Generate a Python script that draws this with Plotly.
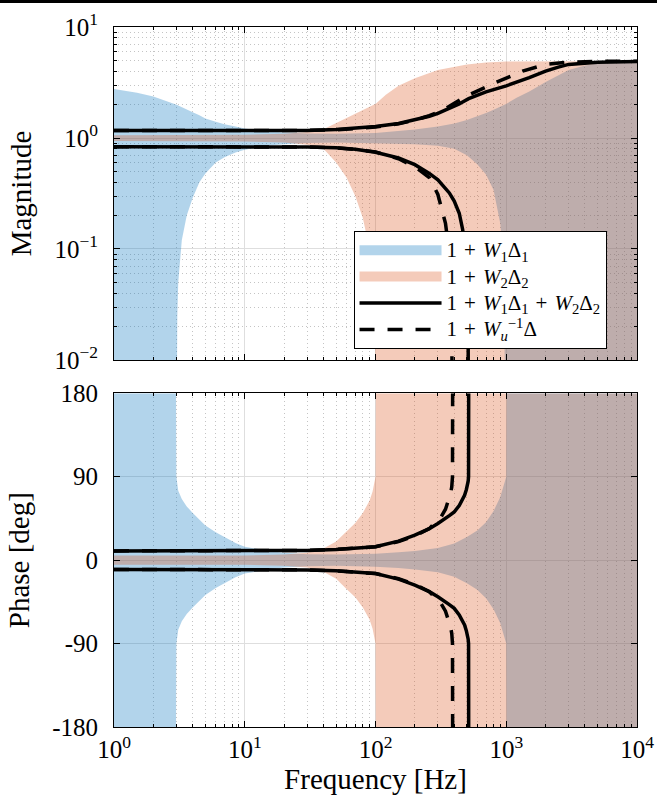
import plotly.graph_objects as go
from plotly.subplots import make_subplots

# ---------------- data ----------------
# 1 + W1*Delta1  (blue band)
freq_w1 = [1, 1.5, 2, 2.5, 2.9, 2.98, 3.0, 3.05, 3.1, 3.3,
           3.6, 4, 4.5, 5, 6, 7, 8.5, 10, 13, 16,
           20, 30, 50, 100, 150, 200, 300, 400, 500, 600,
           700, 800, 900, 950, 1000, 1005, 1200, 1500, 2000, 2500,
           3000, 4000, 5000, 7000, 10000]
w1_mag_upper = [2.76, 2.55, 2.37, 2.17, 2.04, 2.01, 2.0, 1.98, 1.96, 1.9,
                1.81, 1.71, 1.6, 1.5, 1.4, 1.33, 1.27, 1.22, 1.17, 1.14,
                1.12, 1.1, 1.09, 1.11, 1.15, 1.19, 1.27, 1.35, 1.45, 1.56,
                1.68, 1.8, 1.92, 1.97, 2.03, 2.04, 2.3, 2.62, 3.2, 3.7,
                4.1, 4.5, 4.7, 4.8, 4.85]
w1_mag_lower = [0.001, 0.001, 0.001, 0.001, 0.001, 0.001, 0.001, 0.025, 0.05, 0.12,
                0.2, 0.29, 0.4, 0.48, 0.6, 0.67, 0.74, 0.785, 0.83, 0.86,
                0.88, 0.9, 0.91, 0.9, 0.89, 0.88, 0.85, 0.8, 0.7, 0.58,
                0.47, 0.34, 0.17, 0.08, 0.001, 0.001, 0.001, 0.001, 0.001, 0.001,
                0.001, 0.001, 0.001, 0.001, 0.001]
w1_phase = [180, 180, 180, 180, 180, 180, 90, 80, 75, 66,
            58, 51, 44, 37.5, 30, 24.5, 18.5, 14.5, 11.5, 9.5,
            8, 6.5, 6, 7, 8.5, 10, 13, 18, 25, 32,
            41, 53, 68, 79, 90, 180, 180, 180, 180, 180,
            180, 180, 180, 180, 180]

# 1 + W2*Delta2  (orange band)
freq_w2 = [1, 3, 10, 20, 30, 40, 50, 60, 70, 80,
           85, 90, 95, 98, 99.5, 100, 100.5, 120, 150, 200,
           300, 500, 700, 1000, 2000, 5000, 10000]
w2_mag_upper = [1.06, 1.06, 1.07, 1.09, 1.13, 1.2, 1.36, 1.52, 1.66, 1.8,
                1.86, 1.92, 1.97, 2.0, 2.02, 2.03, 2.04, 2.45, 2.95, 3.45,
                4.1, 4.6, 4.8, 4.88, 4.92, 4.92, 4.92]
w2_mag_lower = [0.94, 0.94, 0.93, 0.91, 0.87, 0.8, 0.6, 0.44, 0.3, 0.19,
                0.14, 0.1, 0.05, 0.025, 0.012, 0.001, 0.001, 0.001, 0.001, 0.001,
                0.001, 0.001, 0.001, 0.001, 0.001, 0.001, 0.001]
w2_phase = [5, 5, 5, 6, 8, 12.5, 20, 31, 40, 51,
            57, 64, 74, 82, 87, 90, 180, 180, 180, 180,
            180, 180, 180, 180, 180, 180, 180]

# 1 + W1*Delta1 + W2*Delta2  (solid black)
freq_tot = [1, 10, 20, 30, 50, 70, 100, 150, 200, 258,
            300, 367, 400, 437, 464, 480, 495, 505, 511, 515,
            516, 700, 1000, 1500, 2000, 2500, 3000, 5000, 10000]
tot_mag_upper = [1.17, 1.17, 1.165, 1.17, 1.19, 1.22, 1.27, 1.35, 1.45, 1.57,
                 1.67, 1.84, 1.92, 2.03, 2.11, 2.16, 2.2, 2.23, 2.25, 2.26,
                 2.26, 2.6, 2.95, 3.5, 4.0, 4.35, 4.6, 4.82, 4.9]
tot_mag_lower = [0.835, 0.835, 0.835, 0.83, 0.815, 0.79, 0.745, 0.66, 0.575, 0.48,
                 0.42, 0.32, 0.27, 0.21, 0.15, 0.11, 0.07, 0.04, 0.02, 0.001,
                 None, None, None, None, None, None, None, None, None]
tot_phase = [10, 10, 10, 10.5, 11.5, 12.5, 14.5, 20.5, 27, 34,
             39.5, 48, 52, 59, 65, 70, 76, 81, 85, 90,
             180, None, None, None, None, None, None, None, None]

# 1 + Wu^-1*Delta  (dashed black)
freq_wu = [1, 10, 20, 30, 50, 70, 100, 150, 200, 258,
           300, 318, 343, 360, 375, 383, 388, 389, 500, 800,
           1000, 1333, 2000, 3000, 5000, 10000]
wu_mag_upper = [1.17, 1.165, 1.165, 1.17, 1.185, 1.21, 1.255, 1.34, 1.45, 1.59,
                1.7, 1.76, 1.84, 1.9, 1.95, 1.98, 2.0, 2.0, 2.4, 3.1,
                3.45, 4.0, 4.6, 4.82, 4.9, 4.92]
wu_mag_lower = [0.835, 0.835, 0.835, 0.83, 0.815, 0.79, 0.75, 0.65, 0.55, 0.44,
                0.31, 0.24, 0.17, 0.11, 0.055, 0.025, 0.001, None, None, None,
                None, None, None, None, None, None]
wu_phase = [10, 10, 10, 10.5, 11.5, 12.5, 14.5, 20, 26, 34,
            43, 47, 55, 63, 72, 79, 90, 180, None, None,
            None, None, None, None, None, None]

SP = "\u2004"  # slightly wider space, like TeX spacing around binary operators
legend_names = [
    f"1{SP}+{SP}<i>W</i><sub>1</sub>Δ<sub>1</sub>",
    f"1{SP}+{SP}<i>W</i><sub>2</sub>Δ<sub>2</sub>",
    f"1{SP}+{SP}<i>W</i><sub>1</sub>Δ<sub>1</sub>{SP}+{SP}<i>W</i><sub>2</sub>Δ<sub>2</sub>",
    f"1{SP}+{SP}<i>W</i><sub><i>u</i></sub><sup>−1</sup>Δ",
]

x_tickvals = [1, 10, 100, 1000, 10000]
x_ticktext = ["10<sup>0</sup>", "10<sup>1</sup>", "10<sup>2</sup>", "10<sup>3</sup>", "10<sup>4</sup>"]
mag_tickvals = [0.01, 0.1, 1, 10]
mag_ticktext = ["10<sup>−2</sup>", "10<sup>−1</sup>", "10<sup>0</sup>", "10<sup>1</sup>"]
ph_tickvals = [-180, -90, 0, 90, 180]
ph_ticktext = ["-180", "-90", "0", "90", "180"]

# ---------------- styling ----------------
BLUE = "rgba(0,114,189,0.3)"
ORANGE = "rgba(217,83,25,0.3)"
FONT = "Liberation Serif, Times New Roman, serif"
LW = 3.5
DASH = "15px,13px"


def neg(a):
    return [(-v if v is not None else None) for v in a]


fig = make_subplots(rows=2, cols=1)


def band(f, lo, hi, color, row):
    fig.add_trace(go.Scatter(x=f, y=lo, mode="lines", line=dict(width=0, color=color),
                             hoverinfo="skip", showlegend=False), row=row, col=1)
    fig.add_trace(go.Scatter(x=f, y=hi, mode="lines", line=dict(width=0, color=color),
                             fill="tonexty", fillcolor=color,
                             hoverinfo="skip", showlegend=False), row=row, col=1)


def curve(f, y, dash, row):
    fig.add_trace(go.Scatter(x=f, y=y, mode="lines",
                             line=dict(color="black", width=LW, dash=dash),
                             connectgaps=False, showlegend=False), row=row, col=1)


# magnitude
band(freq_w1, w1_mag_lower, w1_mag_upper, BLUE, 1)
band(freq_w2, w2_mag_lower, w2_mag_upper, ORANGE, 1)
curve(freq_tot, tot_mag_upper, "solid", 1)
curve(freq_tot, tot_mag_lower, "solid", 1)
curve(freq_wu, wu_mag_upper, DASH, 1)
curve(freq_wu, wu_mag_lower, DASH, 1)

# phase
band(freq_w1, neg(w1_phase), w1_phase, BLUE, 2)
band(freq_w2, neg(w2_phase), w2_phase, ORANGE, 2)
curve(freq_tot, tot_phase, "solid", 2)
curve(freq_tot, neg(tot_phase), "solid", 2)
curve(freq_wu, wu_phase, DASH, 2)
curve(freq_wu, neg(wu_phase), DASH, 2)

# legend entries (text drawn at 21px, rows spaced as for 18px)
legend_styles = [(BLUE, 20, "solid"), (ORANGE, 20, "solid"),
                 ("black", LW, "solid"), ("black", LW, DASH)]
for name, (col, w, d) in zip(legend_names, legend_styles):
    fig.add_trace(go.Scatter(x=[None], y=[None], mode="lines",
                             name=f'<span style="font-size:21px">{name}</span>',
                             line=dict(color=col, width=w, dash=d)), row=1, col=1)

minor_x = [m * 10 ** e for e in range(4) for m in range(2, 10)]
minor_y = [m * 10 ** e for e in (-2, -1, 0) for m in range(2, 10)]

common = dict(showline=True, linecolor="black", linewidth=1, mirror="allticks",
              ticks="inside", ticklen=6, tickcolor="black", tickwidth=1,
              showgrid=True, gridcolor="#dedede", gridwidth=1, zeroline=False,
              automargin=False,
              tickfont=dict(family=FONT, size=25, color="black"))
minor_style = dict(ticks="inside", ticklen=3, tickcolor="black", showgrid=True,
                   gridcolor="#c4c4c4", griddash="1px,3px", gridwidth=1)

fig.update_layout(
    width=657, height=802,
    margin=dict(l=114, r=20, t=27, b=75, autoexpand=False),
    paper_bgcolor="white", plot_bgcolor="white",
    font=dict(family=FONT, color="black"),
    showlegend=True,
    legend=dict(x=0.458, y=0.7086, xanchor="left", yanchor="top",
                bgcolor="white", bordercolor="black", borderwidth=1,
                font=dict(family=FONT, size=18, color="black"),
                itemwidth=82, traceorder="normal", tracegroupgap=0),
    xaxis=dict(domain=[0, 1], anchor="y", type="log", range=[0, 4],
               tickmode="array", tickvals=x_tickvals, showticklabels=False,
               minor=dict(tickvals=minor_x, **minor_style), **common),
    yaxis=dict(domain=[0.5243, 1], anchor="x", type="log", range=[-2, 1],
               tickmode="array", tickvals=mag_tickvals, ticktext=mag_ticktext,
               ticklabelstandoff=10,
               minor=dict(tickvals=minor_y, **minor_style),
               title=dict(text="Magnitude", font=dict(family=FONT, size=29), standoff=14),
               **common),
    xaxis2=dict(domain=[0, 1], anchor="y2", type="log", range=[0, 4],
                tickmode="array", tickvals=x_tickvals, ticktext=x_ticktext,
                ticklabelstandoff=0,
                minor=dict(tickvals=minor_x, **minor_style),
                title=dict(text="Frequency [Hz]", font=dict(family=FONT, size=29), standoff=2),
                **common),
    yaxis2=dict(domain=[0, 0.4767], anchor="x2", range=[-180, 180],
                tickmode="array", tickvals=ph_tickvals, ticktext=ph_ticktext,
                ticklabelstandoff=10,
                title=dict(text="Phase [deg]", font=dict(family=FONT, size=29), standoff=14),
                **common),
)

# thin dark band along the very top of the image
fig.add_shape(type="rect", xref="paper", yref="paper",
              x0=-0.25, x1=1.1, y0=1.0343, y1=1.045,
              fillcolor="black", line=dict(width=0), layer="above")

fig.write_html("out.html", config={"displayModeBar": False},
               post_script="document.body.style.margin='0px';document.body.style.padding='0px';")
